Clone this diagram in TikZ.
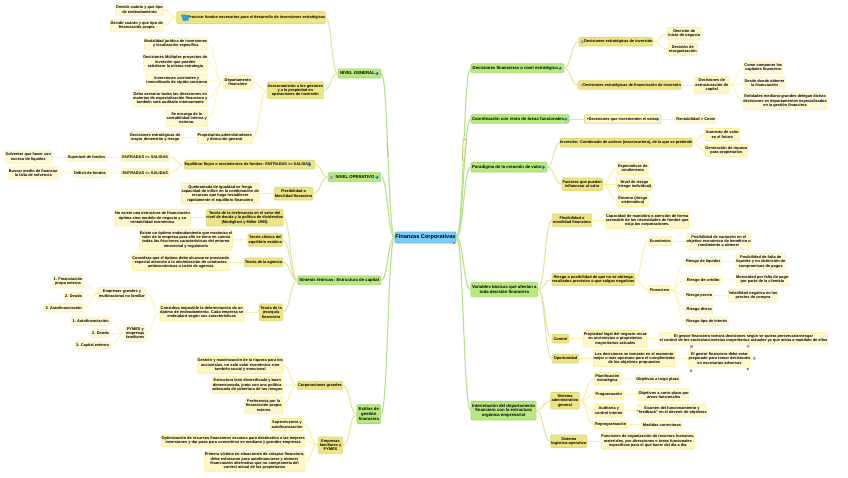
\documentclass[tikz,border=0pt]{standalone}
\usepackage{fontspec}
\setmainfont{Liberation Sans}
\usetikzlibrary{calc}
\definecolor{rootF}{HTML}{7CCBF8}\definecolor{rootB}{HTML}{66B6F0}
\definecolor{aF}{HTML}{B8E97F}\definecolor{aB}{HTML}{A0DA72}
\definecolor{bF}{HTML}{EDE485}\definecolor{bB}{HTML}{E0DA74}
\definecolor{cF}{HTML}{FFF7C8}\definecolor{cB}{HTML}{FFEF96}
\definecolor{dF}{HTML}{FFF8D4}\definecolor{dB}{HTML}{FFF3B0}
\definecolor{eA}{HTML}{B6E288}\definecolor{eB}{HTML}{E5E496}\definecolor{eC}{HTML}{FFEF96}\definecolor{eD}{HTML}{FFF3B4}
\tikzset{
 box/.style={rounded corners=1.2pt,inner sep=0pt,align=center,line width=.8pt,text=black,font=\fontsize{3.9}{4.3}\selectfont\bfseries},
 rootn/.style={box,fill=rootF,draw=rootB,font=\fontsize{5.6}{6}\selectfont\bfseries},
 lone/.style={box,fill=aF,draw=aB,font=\fontsize{4.3}{4.8}\selectfont\bfseries},
 ltwo/.style={box,fill=bF,draw=bB},
 lthree/.style={box,fill=cF,draw=cB},
 lfour/.style={box,fill=dF,draw=dB},
 ea/.style={draw=eA,line width=1.1pt},
 eb/.style={draw=eB,line width=1pt},
 ec/.style={draw=eC,line width=.9pt},
 ed/.style={draw=eD,line width=.8pt}
}
\newcommand{\nd}[7]{\node[#2,minimum width=#5pt,minimum height=#6pt] (#1) at (#3,#4) {#7};}
\newcommand{\eL}[3]{\draw[#3] let \p1=(#1.west),\p2=(#2.east),\n1={0.5*(\x1-\x2)} in (\p1) .. controls +(-\n1,0) and +(\n1,0) .. (\p2);}
\newcommand{\eR}[3]{\draw[#3] let \p1=(#1.east),\p2=(#2.west),\n1={0.5*(\x2-\x1)} in (\p1) .. controls +(\n1,0) and +(-\n1,0) .. (\p2);}
\newcommand{\globe}[2]{\fill[blue!55!cyan!85!black] (#1,#2) circle (1.7pt);\fill[cyan!60] (#1-.5,#2-.5) circle (.7pt);}
\newcommand{\ring}[2]{\draw[gray,line width=.5pt,fill=white] (#1,#2) circle (1.2pt);}
\newcommand{\sqr}[2]{\fill[gray!70] (#1-1.6,#2-1.6) rectangle (#1+1.6,#2+1.6);}
\begin{document}
\begin{tikzpicture}[x=1pt,y=-1pt]
\useasboundingbox (0,0) rectangle (848,477);
\fill[white] (0,0) rectangle (848,477);
\nd{root}{rootn}{425.5}{237.5}{61}{11}{Finanzas Corporativas}
% left
\nd{gen}{lone}{359.5}{73.5}{43}{9}{\hbox{NIVEL GENERAL\kern4pt}}
\nd{a1}{ltwo}{251}{17.5}{145}{12}{\hbox{\kern11pt Procurar fondos necesarios para el desarrollo de inversiones estratégicas}}
\nd{a11}{lfour}{139.5}{9.5}{48}{12}{Decidir cuánto y que tipo\\de endeudamiento}
\nd{a12}{lfour}{136.7}{25.5}{53}{12.4}{Decidir cuánto y que tipo de\\financiación propia}
\nd{a2}{ltwo}{295.3}{90.3}{56}{16.7}{Asesoramiento a los gestores\\y a la propiedad en\\operaciones de inversión}
\nd{a21}{lthree}{237.8}{82.2}{28.3}{13}{Departamento\\financiero}
\nd{a211}{lfour}{175.8}{43.8}{63}{12.3}{Modalidad jurídica de inversiones\\y localización específica}
\nd{a212}{lfour}{175.3}{62.2}{64}{17}{Decisiones Múltiples proyectos de\\inversión que pueden\\satisfacer la misma estrategia}
\nd{a213}{lfour}{176.8}{80.3}{61}{12.7}{Inversiones corrientes y\\inmovilizado de rápido consumo}
\nd{a214}{lfour}{170.3}{98.3}{74}{16.7}{Debe asesorar todas las direcciones en\\materias de especialización financiera y\\también será auditado internamente}
\nd{a215}{lfour}{186.7}{118.3}{41.3}{16.7}{Se encarga de la\\contabilidad interna y\\externa.}
\nd{a22}{lthree}{224.7}{137.5}{54.7}{12.4}{Propietarios,administradores\\y dirección general}
\nd{a221}{lfour}{155.2}{137.5}{51.7}{12.4}{Decisiones estratégicas de\\mayor dimensión y riesgo}
\nd{ope}{lone}{354.5}{177.2}{52.4}{9}{\hbox{\kern5pt NIVEL OPERATIVO\kern4pt}}
\nd{b1}{ltwo}{249.7}{164.7}{127.3}{8.7}{\hbox{Equilibrar flujos o movimientos de fondos: ENTRADAS >= SALIDAS\kern4pt}}
\nd{b11}{lthree}{145.2}{157}{47.7}{8.6}{ENTRADAS >= SALIDAS}
\nd{b12}{lthree}{145.3}{172.7}{47.7}{8}{ENTRADAS <= SALIDAS}
\nd{b111}{lfour}{86.5}{157}{38.4}{8.6}{Superávit de fondos}
\nd{b121}{lfour}{90}{173.2}{33.4}{8.3}{Déficit de fondos}
\nd{b1111}{lfour}{28.3}{157}{46.7}{12}{Solventar que hacer con\\exceso de liquidez}
\nd{b1211}{lfour}{33.3}{172.8}{50}{12.3}{Buscar medio de financiar\\la falta de solvencia}
\nd{b2}{ltwo}{293.5}{193.7}{38.4}{12.7}{Flexibilidad o\\Movilidad financiera}
\nd{b21}{lthree}{220.2}{193.7}{77.7}{20.7}{Quebrantada de igualdad se fenga\\capacidad de influir en la combinación de\\recursos que haga restablecer\\rápidamente el equilibrio financiero}
\nd{sin}{lone}{339.2}{280.3}{83}{8.7}{Síntesis teóricas: Estructura de capital}
\nd{c1}{ltwo}{244.7}{217.7}{76}{16.7}{Teoría de la irrelevancia en el valor del\\nivel de deuda y la política de dividendos\\(Modigliani y Miller 1958)}
\nd{c11}{lthree}{152.5}{217.7}{75}{16.7}{No existe una estructura de financiación\\óptima sino modelo de negocio y su\\rentabilidad económica}
\nd{c2}{ltwo}{265.3}{240}{34.7}{12.6}{Teoría clásica del\\equilibrio estático}
\nd{c21}{lthree}{186}{239.8}{91.4}{21}{Existe un óptimo endeudamiento que maximiza el\\valor de la empresa para ello se tiene en cuenta\\todas las fricciones características del entorno\\emocional y regulatorio}
\nd{c3}{ltwo}{263.5}{262.3}{38.4}{8.7}{Teoría de la agencia}
\nd{c31}{lthree}{180.7}{262.3}{95.3}{16.7}{Considera que el óptimo debe alcanzarse prestando\\especial atención a la minimización de conductas\\antieconómicas o coste de agencia}
\nd{c4}{ltwo}{271}{312.3}{23.4}{16.7}{Teoría de la\\jerarquía\\financiera}
\nd{c41}{lthree}{201.7}{312.3}{82.7}{16.7}{Considera imposible la determinación de un\\óptimo de endeudamiento. Cada empresa se\\endeudará según sus características}
\nd{c411}{lfour}{122}{293.7}{47.4}{12.7}{Empresas grandes y\\multinacional no familiar}
\nd{c4111}{lfour}{68}{281.8}{30}{12.3}{1. Financiación\\propa externa}
\nd{c4112}{lfour}{73.5}{296}{19}{8}{2. Deuda}
\nd{c4113}{lfour}{63.7}{307.8}{38.7}{8.3}{3. Autofinanciación}
\nd{c412}{lfour}{135.3}{333.3}{20.7}{16.7}{PYMES y\\empresas\\familiares}
\nd{c4121}{lfour}{90.5}{321.2}{38.4}{8.3}{1. Autofinanciación}
\nd{c4122}{lfour}{100.5}{333.3}{18.4}{8}{2. Deuda}
\nd{c4123}{lfour}{92.5}{345}{34.4}{8}{3. Capital externo}
\nd{est}{lone}{368.8}{414}{23.7}{18.7}{Estilos de\\gestión\\financiera}
\nd{d1}{ltwo}{320}{385.3}{45.4}{8}{Corporaciones grandes}
\nd{d11}{lthree}{240.3}{365}{84}{16.7}{Gestión y maximización de la riqueza para los\\accionistas, no solo valor económico sino\\también social y emocional}
\nd{d12}{lthree}{247.3}{385}{70}{16.7}{Estructura bien diversificada y buen\\dimensionada, junto con una política\\adecuada de cobertura de los riesgos}
\nd{d13}{lthree}{263.7}{405.3}{37.3}{16.7}{Preferencia por la\\financiación propia\\externa}
\nd{d2}{ltwo}{330.5}{445.3}{24.4}{16.7}{Empresas\\familiares y\\PYMES}
\nd{d21}{lthree}{287}{424.7}{32.6}{12.7}{Supervivencia y\\autofinanciación}
\nd{d22}{lthree}{233.2}{440.8}{140.3}{12.3}{Optimización de recursos financieros escasos para destinarlos a las mejores\\inversiones y dar paso para convertirse en mediano y grandes empresas}
\nd{d23}{lthree}{254.5}{461.3}{97.6}{20.7}{Primera víctima en situaciones de colapso financiero,\\debe esforzarse para autofinanciarse y obtener\\financiación alternativa que no comprometa del\\control actual de los propietarios}
% right
\nd{e}{lone}{517.3}{68.2}{92.7}{9}{\hbox{Decisiones financieras a nivel estratégico\kern4pt}}
\nd{e1}{ltwo}{615.8}{41.7}{73.7}{8.7}{\hbox{\kern5pt Decisiones estratégicas de inversión}}
\nd{e11}{lthree}{684.2}{33.7}{33.7}{12.7}{Decisión de\\inicio de negocio}
\nd{e12}{lthree}{682.8}{49.5}{29}{12.4}{Decisión de\\reorganización}
\nd{e2}{ltwo}{629.5}{85}{101}{8.6}{\hbox{\kern5pt Decisiones estratégicas de financiación de inversión}}
\nd{e21}{lthree}{711.8}{85}{35}{16.6}{Decisiones de\\estructuración de\\capital}
\nd{e211}{lfour}{763.3}{67.2}{38.7}{12.3}{Como componer los\\capitales financiero}
\nd{e212}{lfour}{764.5}{83.2}{41}{12.3}{Desde donde obtener\\la financiación}
\nd{e213}{lfour}{785}{101.2}{82}{16.3}{Entidades mediano-grandes delegan dichas\\decisiones en departamentos especializados\\en la gestión financiera}
\nd{f}{lone}{520}{119}{98}{8.6}{\hbox{Coordinación con resto de áreas funcionales\kern4pt}}
\nd{f1}{box,fill=cF,draw=bB}{622.7}{119}{76.7}{8.6}{\hbox{\kern4pt Decisiones que incrementen el valor\kern4pt}}
\nd{f11}{lfour}{695.8}{119}{39.7}{8.6}{Rentabilidad > Coste}
\nd{g}{lone}{509}{167.2}{76}{9.7}{\hbox{Paradigma de la creación de valor\kern4pt}}
\nd{g1}{ltwo}{626.2}{142.7}{128.3}{8.7}{Inversión: Combinado de activos (macrocartera), de la que se pretende}
\nd{g11}{lthree}{722.3}{134.7}{34.7}{12.7}{Aumento de valor\\en el futuro}
\nd{g12}{lthree}{726.3}{150.5}{42.7}{12.4}{Generación de riqueza\\para propietarios}
\nd{g2}{ltwo}{582.2}{184.2}{40.3}{12.3}{Factores que pueden\\influenciar al valor}
\nd{g21}{lthree}{632.8}{168.3}{31}{12.7}{Expectativas de\\rendimiento}
\nd{g22}{lthree}{634.5}{184.2}{35.6}{12.3}{Nivel de riesgo\\(riesgo individual)}
\nd{g23}{lthree}{632.8}{200.2}{31}{12.3}{Entorno (riesgo\\sistemático)}
\nd{h}{lone}{504.3}{289.5}{66.7}{14.4}{Variables básicas que afectan a\\toda decisión financiera}
\nd{h1}{ltwo}{572}{220.3}{39.4}{12.7}{Flexibilidad o\\movilidad financiera}
\nd{h11}{lthree}{647.2}{220.3}{81.7}{16.7}{Capacidad de maniobra o atención de forma\\razonable de las necesidades de fondos que\\exija las corporaciones.}
\nd{h2}{ltwo}{593.2}{279.5}{81.7}{12.4}{Riesgo o posibilidad de que no se obtenga\\resultados previstos o que salgan negativos}
\nd{h21}{lthree}{660.3}{241.2}{23.3}{8.3}{Económico}
\nd{h211}{lfour}{718.7}{241.2}{63.3}{16.3}{Posibilidad de variación en el\\objetivo económico de beneficio o\\rendimiento a obtener}
\nd{h22}{lthree}{659.7}{289.8}{22}{8.3}{Financiero}
\nd{h221}{lfour}{703.2}{261.8}{35.7}{8.3}{Riesgo de liquidez}
\nd{h2211}{lfour}{760.8}{261.7}{49.7}{16.7}{Posibilidad de falta de\\liquidez y no obtención de\\compromisos de pagos}
\nd{h222}{lfour}{703.2}{280.2}{35.7}{8.3}{Riesgo de crédito}
\nd{h2221}{lfour}{762.3}{279.8}{52.7}{12.3}{Morosidad por falta de pago\\por parte de la clientela}
\nd{h223}{lfour}{699.3}{295.5}{28}{8.4}{Riesgo precio}
\nd{h2231}{lfour}{753}{295.8}{49.4}{12.3}{Volatilidad negativa en los\\precios de compra}
\nd{h224}{lfour}{699.3}{309.5}{28}{8.4}{Riesgo divisa}
\nd{h225}{lfour}{706.8}{321.2}{43}{8.3}{Riesgo tipo de interés}
\nd{h3}{ltwo}{560.5}{338.7}{16.4}{8.7}{Control}
\nd{h31}{lthree}{615.3}{338.7}{63.3}{16.7}{Propiedad legal del negocio recae\\en accionistas o propietarios\\mayoritarios actuales}
\nd{h311}{lfour}{743.5}{338.7}{163}{12.7}{El gestor financiero tomará decisiones según se quiera preservar/arriesgar\\el control de los socios/accionistas mayoritarios actuales ya que actúa a mandato de ellos}
\nd{h4}{ltwo}{565.5}{358.7}{26.4}{8.7}{Oportunidad}
\nd{h41}{lthree}{634.2}{358.3}{79.7}{16.7}{Las decisiones se tomarán en el momento\\mejor o más oportuno para el cumplimiento\\de los objetivos propuestos}
\nd{h411}{lfour}{719.5}{358.5}{61}{17}{El gestor financiero debe estar\\preparado para tomar decisiones\\en escenarios adversos}
\nd{i}{lone}{503.5}{410.7}{65}{18.7}{Interrelación del departamento\\financiero con la estructura\\orgánica empresarial}
\nd{i1}{ltwo}{565}{400.7}{28.6}{16.7}{Sistema\\administrativo\\general}
\nd{i11}{lthree}{607.3}{378.7}{26}{12.7}{Planificación\\estratégica}
\nd{i111}{lfour}{657.7}{379.2}{44.7}{8.3}{Objetivos a largo plazo}
\nd{i12}{lthree}{608.8}{394.8}{29}{8.3}{Programación}
\nd{i121}{lfour}{663.7}{394.8}{50.7}{12.3}{Objetivos a corto plazo por\\áreas funcionales}
\nd{i13}{lthree}{608.8}{410.7}{29}{12.7}{Auditoría y\\control interno}
\nd{i131}{lfour}{672}{410.7}{67.4}{12.7}{Examen del funcionamiento y\\"feedback" en el devenir de objetivos}
\nd{i14}{lthree}{610.7}{424.8}{32.7}{8.3}{Reprogramación}
\nd{i141}{lfour}{662}{424.8}{40}{8.3}{Medidas correctoras}
\nd{i2}{ltwo}{568.8}{441.2}{36.3}{12.3}{Sistema\\logístico-operativo}
\nd{i21}{lthree}{647.8}{441.2}{91}{16.3}{Funciones de organización de recursos humanos,\\materiales, por direcciones o áreas funcionales\\específicas para el que hacer del día a día}
% connectors
\foreach \ch in {gen,ope,sin,est}{\eL{root}{\ch}{ea}}
\foreach \ch in {e,f,g,h,i}{\eR{root}{\ch}{ea}}
\foreach \pa/\ch in {gen/a1,gen/a2,ope/b1,ope/b2,sin/c1,sin/c2,sin/c3,sin/c4,est/d1,est/d2}{\eL{\pa}{\ch}{eb}}
\foreach \pa/\ch in {a1/a11,a1/a12,a2/a21,a2/a22,b1/b11,b1/b12,b2/b21,c1/c11,c2/c21,c3/c31,c4/c41,d1/d11,d1/d12,d1/d13,d2/d21,d2/d22,d2/d23}{\eL{\pa}{\ch}{ec}}
\foreach \pa/\ch in {a21/a211,a21/a212,a21/a213,a21/a214,a21/a215,a22/a221,b11/b111,b12/b121,b111/b1111,b121/b1211,c41/c411,c41/c412,c411/c4111,c411/c4112,c411/c4113,c412/c4121,c412/c4122,c412/c4123}{\eL{\pa}{\ch}{ed}}
\foreach \pa/\ch in {e/e1,e/e2,g/g1,g/g2,h/h1,h/h2,h/h3,h/h4,i/i1,i/i2}{\eR{\pa}{\ch}{eb}}
\draw[draw=gray!25,line width=.9pt] (f.east) -- (f1.west);
\foreach \pa/\ch in {e1/e11,e1/e12,e2/e21,f1/f11,g1/g11,g1/g12,g2/g21,g2/g22,g2/g23,h1/h11,h2/h21,h2/h22,h3/h31,h4/h41,i1/i11,i1/i12,i1/i13,i1/i14,i2/i21}{\eR{\pa}{\ch}{ec}}
\foreach \pa/\ch in {e21/e211,e21/e212,e21/e213,h21/h211,h22/h221,h22/h222,h22/h223,h22/h224,h22/h225,h221/h2211,h222/h2221,h223/h2231,h31/h311,h41/h411,i11/i111,i12/i121,i13/i131,i14/i141}{\eR{\pa}{\ch}{ed}}
% highlighted stretches on the main branches
\draw[draw=bB!85!black,line width=.8pt] (387,143) -- (388.3,157);
\draw[draw=bB!85!black,line width=.7pt,fill=bF!40] (463,139) -- (466.5,140) -- (464.5,160.5) -- (462.5,160) -- cycle;
% icons
\fill[cyan!70!blue!80] (181,14.5) -- (186,14.5) -- (187,15.5) -- (188.5,15.5) -- (188.5,20.5) -- (183,21) -- cycle;
\globe{377}{73.5}\globe{377}{177.2}\globe{309.5}{164.7}\globe{560}{68.2}\globe{565.7}{119}\globe{657.3}{119}\globe{543.3}{167.2}
\sqr{331.7}{177.2}
\ring{582.3}{41.7}\ring{582.3}{85}
\node[font=\fontsize{4}{4}\selectfont\bfseries,inner sep=0pt] (plus) at (587.7,119) {+};
\sqr{691.3}{346.3}\ring{748}{346.3}\ring{754.3}{358.3}\ring{691}{370.7}
\fill[gray!70!black] (747.7,369) circle (1.1pt);
\fill[gray!70!black] (454,243.3) circle (.9pt);
\end{tikzpicture}
\end{document}
